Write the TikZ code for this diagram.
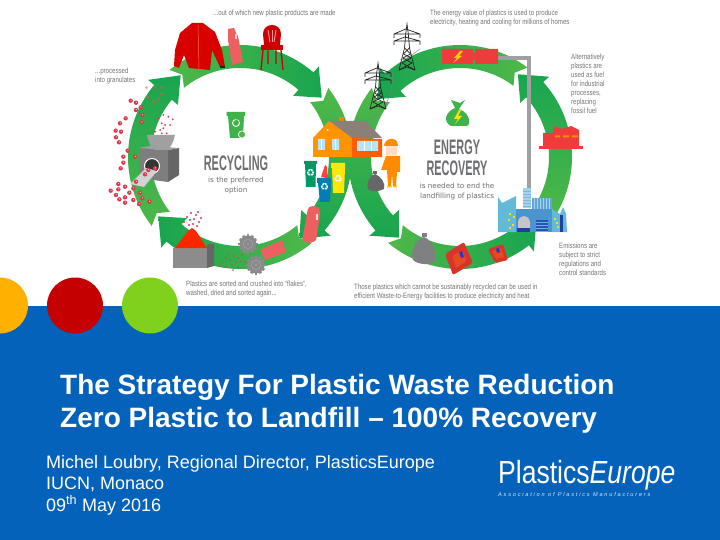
\documentclass[tikz,border=0pt]{standalone}
\usepackage{fontspec}
\setmainfont{Liberation Sans}
\newfontfamily\capfont[FakeStretch=0.8]{Liberation Sans}
\newfontfamily\headfont[FakeStretch=0.52]{Liberation Sans Bold}
\newfontfamily\subfont{DejaVu Sans}
\newfontfamily\logofont[FakeStretch=0.83]{Liberation Sans}
\newfontfamily\logoit[FakeStretch=0.83]{Liberation Sans Italic}
\newfontfamily\assocfont[LetterSpace=32]{Liberation Sans Italic}
\definecolor{gl}{HTML}{50B848}
\definecolor{gd}{HTML}{18A550}
\definecolor{slideblue}{HTML}{0462BA}
\definecolor{capgrey}{HTML}{757575}
\definecolor{headgrey}{HTML}{6D6E71}
\definecolor{pink}{HTML}{EE6060}
\definecolor{redbox}{HTML}{EE3B3B}
\definecolor{gran}{HTML}{D8384A}
\definecolor{dark}{HTML}{222222}
\definecolor{lblue}{HTML}{62BAD8}
\definecolor{mblue}{HTML}{4A94CF}
\definecolor{gfront}{HTML}{8C8C8C}
\definecolor{gside}{HTML}{666666}
\definecolor{gtop}{HTML}{A0A0A0}
\definecolor{bagg}{HTML}{7F8082}
\definecolor{roofg}{HTML}{8A8078}
\definecolor{gearg}{HTML}{8A8A8A}
\definecolor{packet}{HTML}{D9342B}
\definecolor{dotor}{HTML}{FFB000}
\definecolor{dotre}{HTML}{C40000}
\definecolor{dotgr}{HTML}{7FD11B}
\tikzset{
 captxt/.style={font=\capfont\fontsize{7.65}{9}\selectfont,text=capgrey,align=left,anchor=west,inner sep=0pt},
 headtxt/.style={font=\headfont\fontsize{21}{21}\selectfont,text=headgrey,inner sep=0pt},
 subtxt/.style={font=\subfont\fontsize{7.2}{10}\selectfont,text=headgrey,align=center,inner sep=0pt},
 titletxt/.style={font=\bfseries\fontsize{28}{33}\selectfont,text=white,align=left,anchor=base west,inner sep=0pt},
 authortxt/.style={font=\fontsize{18}{21.6}\selectfont,text=white,align=left,anchor=base west,inner sep=0pt},
 recy/.style={font=\subfont\fontsize{10}{10}\selectfont,text=white,inner sep=0pt},
}
\newcommand\ringarrow[6]{%
 \begin{scope}[shift={(#1,#2)}]
 \pgfmathsetmacro\sgn{(#4>#3)?1:-1}
 \path[left color=gl,right color=gd,middle color=gl!50!gd,shading angle=#6]
  (#3:112) arc[start angle=#3,end angle=#4,radius=112pt] -- (#4:120) -- (#5:101) -- (#4:81)
  -- (#4:89) arc[start angle=#4,end angle=#3,radius=89pt] -- ({#3+\sgn*4}:100.5) -- cycle;
 \end{scope}}
\newcommand\mygear[3]{%
 \begin{scope}[shift={(#1,#2)}]
 \foreach \a in {0,30,...,330}{\fill[gearg,rotate=\a] (-1.3,#3-1) rectangle (1.3,#3+1.2);}
 \fill[gearg] (0,0) circle (#3);
 \draw[gtop,line width=.7] (0,0) circle (#3*.55);
 \fill[gtop] (0,0) circle (1.2);
 \end{scope}}
\newcommand\mypylon[2]{%
 \begin{scope}[shift={(#1,#2)},draw=dark,line width=.7]
 \draw (-8,46)--(-2.5,24)--(-1.2,9)--(0,0)--(1.2,9)--(2.5,24)--(8,46);
 \draw (-13,10)--(13,10) (-13,10)--(-1.2,5)--(13,10) (-13,10)--(-13,14) (13,10)--(13,14);
 \draw (-13,17)--(13,17) (-13,17)--(-2,13)--(13,17) (-13,17)--(-13,21) (13,17)--(13,21);
 \draw (-2.5,24)--(3.6,30)--(-4.2,34)--(5,39)--(-8,46) (2.5,24)--(-3.6,30)--(4.2,34)--(-5,39)--(8,46);
 \draw (-8,46)--(0,43)--(8,46);
 \end{scope}}
\begin{document}
\begin{tikzpicture}[x=1pt,y=1pt,yscale=-1]
\clip (0,0) rectangle (720,540);
\fill[white] (0,0) rectangle (720,540);
% ---- rings
\ringarrow{240}{157}{-38}{41}{54}{0}
\ringarrow{460}{157}{218}{139}{127}{0}
\ringarrow{240}{157}{231}{311}{324}{90}
\ringarrow{240}{157}{50}{131}{144}{-90}
\ringarrow{240}{157}{142}{220}{234}{180}
\ringarrow{460}{157}{307}{228}{215}{-90}
\ringarrow{460}{157}{130}{52}{41}{90}
\ringarrow{460}{157}{392}{318}{305}{180}
% ---- captions
\node[captxt] (c1) at (213,14) {...out of which new plastic products are made};
\node[captxt] (c2) at (95,76) {...processed\\into granulates};
\node[captxt] (c3) at (186,289.5) {Plastics are sorted and crushed into “flakes”,\\washed, dried and sorted again...};
\node[captxt] (c4) at (430,18.5) {The energy value of plastics is used to produce\\electricity, heating and cooling for millions of homes};
\node[captxt] (c5) at (571,84) {Alternatively\\plastics are\\used as fuel\\for industrial\\processes,\\replacing\\fossil fuel};
\node[captxt] (c6) at (559,259.5) {Emissions are\\subject to strict\\regulations and\\control standards};
\node[captxt] (c7) at (354,292.5) {Those plastics which cannot be sustainably recycled can be used in\\efficient Waste-to-Energy facilities to produce electricity and heat};
% ---- centre texts
\node[headtxt] (h1) at (236,163) {RECYCLING};
\node[subtxt] (s1) at (236,186) {is the preferred\\option};
\node[headtxt] (h2) at (457,147) {ENERGY};
\node[headtxt] (h3) at (457,168.5) {RECOVERY};
\node[subtxt] (s2) at (457,192) {is needed to end the\\landfilling of plastics};
% bin icon
\fill[gl!70!gd] (226.5,112) rectangle (245,116) (228,116) -- (244,116) -- (243,138) -- (230,138) -- cycle;
\draw[white,line width=.9] (236,123) circle (3.5);
\fill[gl!70!gd] (236,119) -- (239,122) -- (235,122) -- cycle;
\filldraw[fill=gl,draw=white,line width=.7] (242,134.5) circle (3.6);
% money bag
\fill[gl!70!gd] (451,100) -- (460,103) -- (465,100) -- (459,109) .. controls (472,114) and (470,126) .. (467,126) -- (451,126) .. controls (443,122) and (445,112) .. (455,108) -- cycle;
\fill[yellow!85!orange] (459,110) -- (454,119) -- (458,119) -- (455,124) -- (462,116) -- (458,116) -- (461,110) -- cycle;
% ---- pylons and wires
\draw[gray,line width=.4] (420,49) .. controls (412,55) and (405,60) .. (400,60);
\draw[gray,line width=.4] (392,72) .. controls (395,90) and (385,118) .. (362,122);
\mypylon{407}{24}
\mypylon{378}{63}
% ---- energy box and pipe
\draw[gtop,line width=3.2] (498,58) -- (529,58) -- (529,197);
\fill[redbox] (442,49) rectangle (473,64) (475,49) rectangle (498,64);
\fill[redbox] (470,52) -- (478,54) -- (478,59) -- (470,61) -- cycle;
\fill[yellow!70!orange] (460,51) -- (454,58) -- (457,58) -- (453,63) -- (462,56) -- (459,56) -- (463,51) -- cycle;
% ---- factory
\fill[redbox] (543,147) -- (543,133) -- (553,133) -- (554,126) -- (562,129) -- (571,126) -- (579,130) -- (579,147) -- cycle;
\fill[redbox] (539,146) rectangle (583,149);
\fill[orange!90!yellow] (555,135.5) rectangle (560,137.5) (563,135.5) rectangle (569,137.5) (572,135.5) rectangle (578,137.5);
% ---- waste-to-energy plant
\fill[lblue] (498,232) -- (498,197) -- (502,203) -- (516,196) -- (516,232) -- cycle;
\fill[lblue!60!white] (523,188) rectangle (531,208);
\foreach \y in {191,194,...,206}{\draw[mblue!70,line width=.5] (523,\y) -- (531,\y);}
\fill[mblue!85] (532,198) rectangle (552,209);
\foreach \x in {534,537,...,550}{\draw[lblue!60!white,line width=.5] (\x,198) -- (\x,209);}
\fill[mblue] (516,209) rectangle (552,232);
\fill[lblue] (552,232) -- (552,209) -- (560,214) -- (563,207) -- (566,214) -- (567,232) -- cycle;
\fill[blue!40!mblue!70!black] (560,215) rectangle (563,232);
\fill[blue!30!mblue!80!black] (536,220) rectangle (548,232);
\foreach \y in {222,225,...,231}{\draw[lblue,line width=.5] (536,\y) -- (548,\y);}
\fill[blue!40!mblue!70!black] (517,228) rectangle (530,232);
\fill[gray!45] (518,222) .. controls (519,214) and (529,214) .. (530,222) -- (530,228) -- (518,228) -- cycle;
\foreach \p/\q in {509/213,513/216,508/219,512/224,509/227,556/222,557/226,554/218}{\fill[yellow!80!orange] (\p,\q) rectangle +(2,2);}
% ---- bags and packets
\fill[bagg] (422,233) rectangle (427,237);
\fill[bagg] (424,237) .. controls (432,240) and (438,252) .. (435,262) .. controls (430,265) and (418,265) .. (413,260) .. controls (410,252) and (415,240) .. (424,237) -- cycle;
\fill[packet,rounded corners=2] (445,254) -- (464,242) -- (473,263) -- (453,275) -- cycle;
\fill[packet!70!orange,rounded corners=2] (452,256) -- (462,250) -- (467,261) -- (456,268) -- cycle;
\fill[blue!60!gray] (459,252) -- (462,251) -- (464,257) -- (461,258) -- cycle;
\fill[packet,rounded corners=2] (488,249) -- (503,244) -- (508,260) -- (495,263) -- cycle;
\fill[packet!70!orange] (492,251) -- (501,248) -- (504,257) -- (496,259) -- cycle;
\fill[blue!60!gray] (496,249) -- (499,248) -- (500,252) -- (497,253) -- cycle;
% ---- house
\fill[orange!90!yellow!90!red] (339,117) rectangle (344,123);
\fill[roofg] (329,121) -- (365,121) -- (382,138) -- (352,138) -- cycle;
\fill[orange!85!yellow] (313,157) -- (313,138) -- (329,121) -- (352,138) -- (352,157) -- cycle;
\fill[orange!60!red!90!yellow] (352,138) -- (382,139) -- (382,157) -- (352,157) -- cycle;
\fill[cyan!30!white] (318,139) rectangle (325,150) (332,139) rectangle (339,150) (357,141) rectangle (378,151);
\draw[white,line width=.4] (321.5,139) -- (321.5,150) (335.5,139) -- (335.5,150) (364,141) -- (364,151) (371,141) -- (371,151);
\fill[white] (327.5,130) circle (1.1);
% ---- bins
\fill[teal!80!green] (304,161) rectangle (317,164) (305,164) -- (316,164) -- (315.5,187) -- (306,187) -- cycle;
\node[recy] (r1) at (310.5,173) {♻};
\fill[yellow!90!orange] (331,163) rectangle (345,168) (332,168) -- (345,168) -- (344,193) -- (333,193) -- cycle;
\node[recy] (r2) at (338,179) {♻};
\fill[red!75!white] (321,177) -- (325,165) -- (327,167) -- (327,178) -- cycle;
\fill[blue!30!cyan!70!black] (317,178) rectangle (331,183) (318,183) -- (331,183) -- (330,202) -- (320,202) -- cycle;
\node[recy] (r3) at (324.5,187) {♻};
% ---- red bottle at the crossing
\fill[pink,rounded corners=1.5] (302,241) -- (308,208) -- (311,206) -- (319,207) -- (320,215) -- (316,241) -- (309,243) -- cycle;
\fill[white!80!pink] (315.5,214) rectangle (317.5,220);
% ---- worker and bag
\fill[bagg!80!black] (373,171) rectangle (377,174);
\fill[bagg!80!black] (375,174) .. controls (381,176) and (386,184) .. (384,189) .. controls (378,192) and (371,192) .. (368,189) .. controls (366,184) and (369,176) .. (375,174) -- cycle;
\fill[orange!25!white] (386,146) rectangle (397,155);
\fill[orange!90!yellow] (384,146) .. controls (384,138) and (398,135) .. (398,146) -- cycle;
\fill[orange!90!yellow] (386,156) -- (400,156) -- (400,172) -- (397,172) -- (396,186) -- (393,186) -- (392,174) -- (391,186) -- (388,186) -- (387,170) -- (381,170) -- cycle;
\fill[yellow!60!orange] (387,186) rectangle (392,187.5) (393,186) rectangle (397,187.5);
% ---- jacket, bottle, chair
\fill[red!85!black] (192,23) -- (203,23) -- (215,32) -- (222,50) -- (225,67) -- (220,67) -- (212,50) -- (210,70) -- (189,68) -- (184,55) -- (179,68) -- (174,66) -- (175,50) -- (180,33) -- cycle;
\draw[orange!40!red!70!white,line width=.5] (198,25) -- (199,69);
\fill[dark] (220,66) rectangle (225,68);
\fill[pink] (228,29) -- (234,28) -- (236,33) -- (238,36) -- (243,62) -- (232,65) -- (228,40) -- cycle;
\fill[white!70!pink] (235,34) rectangle (237,39);
\fill[red!80!black] (263,34) .. controls (263,22) and (281,22) .. (281,34) -- (280,45) -- (281,50) -- (263,50) -- (264,45) -- cycle;
\foreach \x/\z in {268/270,272/272,276/274}{\draw[white!60!red,line width=.9] (\x,30) -- (\z,42);}
\fill[red!80!black] (261,45) rectangle (283,50);
\draw[red!80!black,line width=1.3] (263,50) -- (261,70) (281,50) -- (283,70) (268,50) -- (268,64) (276,50) -- (276,64);
% ---- bottom-left objects
\fill[gside] (207,244) -- (214,244) -- (214,266) -- (207,268) -- cycle;
\fill[gfront] (173,248) rectangle (207,268);
\fill[red!70!orange] (175,248) -- (188,231) -- (192,228) -- (196,231) -- (207,248) -- cycle;
\foreach \X/\Y in {187/217,191/213,196/215,199/222,193/224,197/226,184/222,190/220,201/218,194/219,189/225,198/212}{\fill[gran] (\X,\Y) circle (1.1);}
\foreach \X/\Y in {222/262,226/258,230/260,234/256,238/258,242/255,226/266,232/265,236/262,241/261,233/270,238/267,245/262,220/266,229/254}{\fill[gran!80!gray] (\X,\Y) circle (.8);}
\mygear{248}{244}{8.5}
\fill[pink] (260,250) -- (282,240) -- (286,252) -- (265,260) -- cycle;
\mygear{256}{265}{8.5}
% ---- granulator
\fill[gside] (168,150) -- (179,148) -- (179,175) -- (168,182) -- cycle;
\fill[gfront!90!black] (139,148) -- (168,150) -- (168,182) -- (139,178) -- cycle;
\fill[gtop] (139,148) -- (150,146) -- (179,148) -- (168,150) -- cycle;
\fill[gtop] (147,135) -- (175,135) .. controls (173,144) and (170,148) .. (167,150) -- (155,150) .. controls (151,148) and (149,144) .. (147,135) -- cycle;
\filldraw[fill=dark!80!gray,draw=white,line width=1] (152,166) circle (7.5);
\fill[gray!35!white] (146,168) -- (157,171) -- (144,187) -- (130,184) -- cycle;
\foreach \X/\Y in {92/62,108/68,122/82,108/90,77/115,60/130,127/105,125/127,47/152,63/155,48/172,57/187,83/212,105/230,70/230,70/248,62/265,55/312,75/320,32/332,55/328,48/345,75/352,58/358,75/368,100/325,88/338,100/360,120/338,127/355,117/372,148/365,108/305,135/283,145/270,165/265}{
 \fill[gran] ({100+\X/3},{80+\Y/3}) circle (2.2);
 \fill[white!70!gran] ({100.3+\X/3},{79.6+\Y/3}) circle (.7);}
\foreach \X/\Y in {160/65,175/58,143/52,185/42,165/22,185/22}{\fill[gran!50!gl] ({100+\X/3},{80+\Y/3}) circle (1.8);}
\fill[gran!40!white] (146.5,87.5) circle (1.6);
\foreach \X/\Y in {175/115,190/105,205/110,218/118,195/135,210/135,185/130,180/150,165/155,200/160,185/160,190/145}{\fill[gran] ({100+\X/3},{80+\Y/3}) circle (1);}
% ---- slide band
\fill[slideblue] (0,306) rectangle (720,540);
\fill[dotor] (0,305.5) circle (28);
\fill[dotre] (75,305.5) circle (28);
\fill[dotgr] (150,305.5) circle (28);
\node[titletxt] (t1) at (60,394) {The Strategy For Plastic Waste Reduction};
\node[titletxt] (t2) at (60,427) {Zero Plastic to Landfill – 100\% Recovery};
\node[authortxt] (a1) at (46,468) {Michel Loubry, Regional Director, PlasticsEurope};
\node[authortxt] (a2) at (46,489.5) {IUCN, Monaco};
\node[authortxt] (a3) at (46,511) {09\textsuperscript{th} May 2016};
\node[anchor=base west,inner sep=0pt,text=white,font=\logofont\fontsize{32}{32}\selectfont] (l1) at (498,483) {Plastics\logoit\fontsize{32}{32}\selectfont Europe};
\node[anchor=base west,inner sep=0pt,text=white!85!slideblue,font=\assocfont\fontsize{5.6}{6}\selectfont] (l2) at (498,496) {Association of Plastics Manufacturers};
\end{tikzpicture}
\end{document}
